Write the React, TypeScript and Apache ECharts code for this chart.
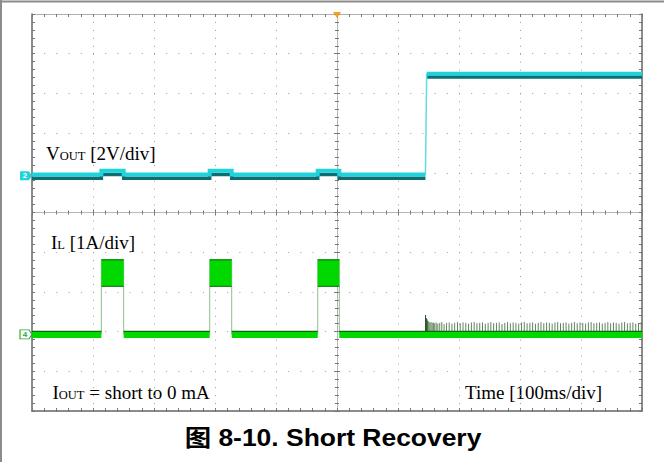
import React, { useEffect, useRef } from "react";
import * as echarts from "echarts";

// ---- axes (time in ms relative to trigger, screen in divisions) ----
const timeMin = -500;
const timeMax = 500;
const timePerDiv = 100;
const divMin = -5;
const divMax = 5;
const voutAxis = [-11.85, 8.15]; // 2 V/div
const ilAxis = [-1.93, 8.07]; // 1 A/div

// ---- VOUT trace (V): upper (cyan) and lower (dark) edge of the trace ----
const voutT = [-500, -386.3, -386.3, -349.7, -349.7, -208.7, -208.7, -172.6, -172.6, -31.6, -31.6, 3.8, 3.8, 145.0, 147.0, 500];
const voutHi = [0.06, 0.06, 0.25, 0.25, 0.06, 0.06, 0.25, 0.25, 0.06, 0.06, 0.25, 0.25, 0.06, 0.06, 5.14, 5.14];
const voutLo = [-0.13, -0.13, 0.06, 0.06, -0.13, -0.13, 0.06, 0.06, -0.13, -0.13, 0.06, 0.06, -0.13, -0.13, 4.97, 4.97];

// ---- IL trace (A): hiccup pulses ----
const pulseStart = [-386.3, -208.7, -31.6];
const pulseEnd = [-349.7, -172.6, 3.8];
const ilPeak = [1.89, 1.89, 1.89];
const ilValley = [1.21, 1.21, 1.21];
const ilBase = 0;
const ilBaseTop = 0.075;

// ---- IL switching spikes after recovery [t ms, A] ----
const ilSpikes = [
  [145.2, 0.49], [146.4, 0.41], [147.5, 0.38], [149.0, 0.34], [150.6, 0.31], [152.3, 0.3], [154.1, 0.31], [156.0, 0.29],
  [158.0, 0.3], [160.2, 0.28], [162.6, 0.3], [165.3, 0.27], [168.4, 0.29], [171.8, 0.31], [175.5, 0.26], [179.6, 0.29],
  [183.9, 0.3], [188.4, 0.27], [192.9, 0.29], [197.5, 0.31], [202.0, 0.28], [206.6, 0.3], [211.1, 0.29], [215.7, 0.27],
  [220.3, 0.3], [224.8, 0.31], [229.4, 0.28], [234.0, 0.29], [238.5, 0.3], [243.1, 0.27], [247.7, 0.29], [252.2, 0.31],
  [256.8, 0.28], [261.4, 0.29], [265.9, 0.3], [270.5, 0.26], [275.1, 0.29], [279.6, 0.31], [284.2, 0.28], [288.8, 0.3],
  [293.3, 0.29], [297.9, 0.27], [302.5, 0.3], [307.0, 0.31], [311.6, 0.28], [316.2, 0.29], [320.7, 0.3], [325.3, 0.27],
  [329.9, 0.29], [334.4, 0.31], [339.0, 0.28], [343.6, 0.3], [348.1, 0.29], [352.7, 0.27], [357.3, 0.3], [361.8, 0.31],
  [366.4, 0.28], [371.0, 0.29], [375.5, 0.3], [380.1, 0.27], [384.7, 0.29], [389.2, 0.31], [393.8, 0.28], [398.4, 0.3],
  [402.9, 0.29], [407.5, 0.27], [412.1, 0.3], [416.6, 0.31], [421.2, 0.28], [425.8, 0.29], [430.3, 0.3], [434.9, 0.27],
  [439.5, 0.29], [444.0, 0.31], [448.6, 0.28], [453.2, 0.3], [457.7, 0.29], [462.3, 0.27], [466.9, 0.3], [471.4, 0.31],
  [476.0, 0.28], [480.6, 0.29], [485.1, 0.3], [489.7, 0.27], [494.3, 0.29], [498.8, 0.31],
];

// ---- texts ----
const labelVout = "V{s|OUT} [2V/div]";
const labelIl = "I{s|L} [1A/div]";
const labelIout = "I{s|OUT} = short to 0 mA";
const labelTime = "Time [100ms/div]";
const titleText = "图 8-10. Short Recovery";

const CYAN = "#22d2da";
const TEAL = "#0c6d72";
const GREEN = "#00d800";
const DKGREEN = "#0a6a0a";
const SERIF = '"Liberation Serif", "Times New Roman", serif';

function baselineSegments(v: number) {
  const out: any[] = [];
  let prev = timeMin;
  pulseStart.forEach((s, i) => {
    out.push([prev, v], [s, v], [s, "-"]);
    prev = pulseEnd[i];
  });
  out.push([prev, v], [timeMax, v]);
  return out;
}

// split a trace so that large jumps (the recovery edge) are drawn separately, thin
function levelPart(vals: number[]) {
  const out: any[] = [];
  voutT.forEach((t, i) => {
    if (i > 0 && Math.abs(vals[i] - vals[i - 1]) > 1) out.push([t, "-"]);
    out.push([t, vals[i]]);
  });
  return out;
}
function edgePart(vals: number[]) {
  const out: any[] = [];
  voutT.forEach((t, i) => {
    if (i > 0 && Math.abs(vals[i] - vals[i - 1]) > 1) {
      out.push([voutT[i - 1], vals[i - 1]], [t, vals[i]], [t, "-"]);
    }
  });
  return out;
}

function xAx(extra: any) {
  return {
    type: "value",
    min: timeMin,
    max: timeMax,
    interval: timePerDiv,
    axisLabel: { show: false },
    splitLine: { show: false },
    ...extra,
  };
}
function yAx(extra: any) {
  return {
    type: "value",
    min: divMin,
    max: divMax,
    interval: 1,
    axisLabel: { show: false },
    splitLine: { show: false },
    ...extra,
  };
}

export default function App() {
  const ref = useRef<HTMLDivElement>(null);
  useEffect(() => {
    if (!ref.current) return;
    const chart = echarts.init(ref.current, null, { renderer: "svg" });
    const tickStyle = { color: "#777", width: 1 };
    const option: any = {
      animation: false,
      backgroundColor: "#fff",
      grid: { left: 32, top: 14, width: 610, height: 397, show: false },
      xAxis: [
        xAx({
          position: "bottom",
          axisLine: { onZero: false, lineStyle: { color: "#666", width: 1.5 } },
          axisTick: { inside: true, length: 3, lineStyle: tickStyle },
          minorTick: { show: true, splitNumber: 5, length: 3, lineStyle: tickStyle },
          splitLine: { show: true, lineStyle: { color: "#9a9a9a", width: 1, type: [1, 6.94] } },
        }),
        xAx({
          position: "top",
          axisLine: { onZero: false, lineStyle: { color: "#b0b0b0", width: 1 } },
          axisTick: { inside: true, length: 3, lineStyle: tickStyle },
          minorTick: { show: true, splitNumber: 5, length: 3, lineStyle: tickStyle },
        }),
        xAx({
          position: "bottom",
          axisLine: { onZero: true, onZeroAxisIndex: 0, lineStyle: { color: "#b5b5b5", width: 1 } },
          axisTick: { inside: true, length: 3, lineStyle: tickStyle },
          minorTick: { show: true, splitNumber: 5, length: 2, lineStyle: tickStyle },
        }),
        xAx({
          position: "top",
          axisLine: { onZero: true, onZeroAxisIndex: 0, lineStyle: { color: "#b5b5b5", width: 1 } },
          axisTick: { inside: true, length: 3, lineStyle: tickStyle },
          minorTick: { show: true, splitNumber: 5, length: 2, lineStyle: tickStyle },
        }),
      ],
      yAxis: [
        yAx({
          position: "left",
          axisLine: { show: true, onZero: false, lineStyle: { color: "#666", width: 1.5 } },
          axisTick: { show: true, inside: true, length: 3, lineStyle: tickStyle },
          minorTick: { show: true, splitNumber: 5, length: 3, lineStyle: tickStyle },
          splitLine: { show: true, lineStyle: { color: "#9a9a9a", width: 1, type: [1, 11.2] } },
        }),
        yAx({
          position: "right",
          axisLine: { show: true, onZero: false, lineStyle: { color: "#666", width: 1.5 } },
          axisTick: { show: true, inside: true, length: 3, lineStyle: tickStyle },
          minorTick: { show: true, splitNumber: 5, length: 3, lineStyle: tickStyle },
        }),
        yAx({
          position: "left",
          axisLine: { show: true, onZero: true, onZeroAxisIndex: 0, lineStyle: { color: "#b5b5b5", width: 1 } },
          axisTick: { show: true, inside: true, length: 3, lineStyle: tickStyle },
          minorTick: { show: true, splitNumber: 5, length: 2, lineStyle: tickStyle },
        }),
        yAx({
          position: "right",
          axisLine: { show: true, onZero: true, onZeroAxisIndex: 0, lineStyle: { color: "#b5b5b5", width: 1 } },
          axisTick: { show: true, inside: true, length: 3, lineStyle: tickStyle },
          minorTick: { show: true, splitNumber: 5, length: 2, lineStyle: tickStyle },
        }),
        { type: "value", show: false, min: voutAxis[0], max: voutAxis[1] },
        { type: "value", show: false, min: ilAxis[0], max: ilAxis[1] },
      ],
      series: [
        // IL spikes
        {
          type: "custom",
          name: "IL spikes",
          xAxisIndex: 0,
          yAxisIndex: 5,
          clip: true,
          data: ilSpikes,
          renderItem: (params: any, api: any) => {
            const p0 = api.coord([api.value(0), ilBase]);
            const p1 = api.coord([api.value(0), api.value(1)]);
            const dark = params.dataIndex < 4;
            return {
              type: "line",
              shape: { x1: p0[0], y1: p0[1], x2: p1[0], y2: p1[1] },
              style: { stroke: dark ? "#1d4f1d" : "#5f855f", lineWidth: 1 },
            };
          },
        },
        // IL pulse blocks
        {
          type: "custom",
          name: "IL pulses",
          xAxisIndex: 0,
          yAxisIndex: 5,
          clip: true,
          data: pulseStart.map((s, i) => [s, pulseEnd[i], ilValley[i], ilPeak[i]]),
          encode: { x: [0, 1], y: [2, 3] },
          renderItem: (params: any, api: any) => {
            const tl = api.coord([api.value(0), api.value(3)]);
            const br = api.coord([api.value(1), api.value(2)]);
            const b0 = api.coord([api.value(0), ilBase]);
            const b1 = api.coord([api.value(1), ilBase]);
            return {
              type: "group",
              children: [
                { type: "line", shape: { x1: b0[0], y1: b0[1], x2: tl[0], y2: tl[1] }, style: { stroke: "#8fbf8f", lineWidth: 1 } },
                { type: "line", shape: { x1: b1[0], y1: b1[1], x2: br[0], y2: tl[1] }, style: { stroke: "#8fbf8f", lineWidth: 1 } },
                { type: "rect", shape: { x: tl[0], y: tl[1], width: br[0] - tl[0], height: br[1] - tl[1] }, style: { fill: GREEN } },
                { type: "line", shape: { x1: tl[0], y1: tl[1] + 0.5, x2: br[0], y2: tl[1] + 0.5 }, style: { stroke: DKGREEN, lineWidth: 1 } },
                { type: "line", shape: { x1: tl[0], y1: br[1], x2: br[0], y2: br[1] }, style: { stroke: DKGREEN, lineWidth: 1 } },
              ],
            };
          },
        },
        // IL baseline band
        {
          type: "line",
          name: "IL",
          xAxisIndex: 0,
          yAxisIndex: 5,
          symbol: "none",
          connectNulls: false,
          lineStyle: { color: GREEN, width: 7, cap: "butt" },
          data: baselineSegments(ilBase),
          markPoint: {
            symbol: "path://M0,0L9,0L12,4.5L9,9L0,9Z",
            symbolSize: [12, 9],
            symbolOffset: [-6, 0],
            itemStyle: { color: "#fff", borderColor: "#2aa82a", borderWidth: 1 },
            label: { show: true, position: "inside", offset: [-1, 0], formatter: "4", color: "#2aa82a", fontSize: 8, fontWeight: "bold", fontFamily: "Liberation Sans" },
            data: [{ coord: [timeMin, ilBase] }],
          },
        },
        {
          type: "line",
          name: "IL edge",
          xAxisIndex: 0,
          yAxisIndex: 5,
          symbol: "none",
          connectNulls: false,
          lineStyle: { color: DKGREEN, width: 1.2, cap: "butt" },
          data: baselineSegments(ilBaseTop),
        },
        // VOUT
        {
          type: "line",
          name: "VOUT low edge",
          xAxisIndex: 0,
          yAxisIndex: 4,
          symbol: "none",
          connectNulls: false,
          lineStyle: { color: TEAL, width: 3.5, join: "miter", cap: "butt" },
          data: levelPart(voutLo),
        },
        {
          type: "line",
          name: "VOUT recovery edge",
          xAxisIndex: 0,
          yAxisIndex: 4,
          symbol: "none",
          connectNulls: false,
          lineStyle: { color: "#5fdde3", width: 1.5, cap: "butt" },
          data: edgePart(voutHi),
        },
        {
          type: "line",
          name: "VOUT",
          xAxisIndex: 0,
          yAxisIndex: 4,
          symbol: "none",
          connectNulls: false,
          lineStyle: { color: CYAN, width: 4, join: "miter", cap: "butt" },
          data: levelPart(voutHi),
          markPoint: {
            data: [
              {
                coord: [timeMin, 0],
                symbol: "path://M0,0L9,0L12,4.5L9,9L0,9Z",
                symbolSize: [12, 9],
                symbolOffset: [-6, 0],
                itemStyle: { color: CYAN },
                label: { show: true, position: "inside", offset: [-1, 0], formatter: "2", color: "#fff", fontSize: 8, fontWeight: "bold", fontFamily: "Liberation Sans" },
              },
              {
                coord: [0, voutAxis[1]],
                symbol: "triangle",
                symbolRotate: 180,
                symbolSize: [8, 6],
                symbolOffset: [0, 1],
                itemStyle: { color: "#f5a020" },
                label: { show: false },
              },
            ],
          },
        },
      ],
      graphic: [
        { type: "line", shape: { x1: 0, y1: 1.5, x2: 664, y2: 1.5 }, style: { stroke: "#8c8c8c", lineWidth: 2 } },
        { type: "line", shape: { x1: 1, y1: 0, x2: 1, y2: 462 }, style: { stroke: "#8c8c8c", lineWidth: 2 } },
        {
          type: "text",
          style: {
            x: 46, y: 153, text: labelVout, fill: "#000", fontSize: 19, fontFamily: SERIF, verticalAlign: "middle",
            rich: { s: { fontSize: 12.5, fontFamily: SERIF, verticalAlign: "bottom", fill: "#000" } },
          },
        },
        {
          type: "text",
          style: {
            x: 51, y: 242, text: labelIl, fill: "#000", fontSize: 19, fontFamily: SERIF, verticalAlign: "middle",
            rich: { s: { fontSize: 12.5, fontFamily: SERIF, verticalAlign: "bottom", fill: "#000" } },
          },
        },
        {
          type: "text",
          style: {
            x: 52.5, y: 392, text: labelIout, fill: "#000", fontSize: 19, fontFamily: SERIF, verticalAlign: "middle",
            rich: { s: { fontSize: 12.5, fontFamily: SERIF, verticalAlign: "bottom", fill: "#000" } },
          },
        },
        {
          type: "text",
          style: { x: 465, y: 392.5, text: labelTime, fill: "#000", fontSize: 19, fontFamily: SERIF, verticalAlign: "middle" },
        },
        {
          type: "text",
          x: 333,
          y: 438,
          scaleX: 1.15,
          style: {
            x: 0, y: 0, text: titleText, fill: "#000", fontSize: 23, fontWeight: "bold",
            fontFamily: '"Liberation Sans", Arial, "Noto Sans CJK SC", sans-serif', align: "center", verticalAlign: "middle",
          },
        },
      ],
    };
    chart.setOption(option);
    return () => chart.dispose();
  }, []);
  return (
    <div
      ref={ref}
      style={{ position: "absolute", left: 0, top: 0, width: 664, height: 462, background: "#fff" }}
    />
  );
}
